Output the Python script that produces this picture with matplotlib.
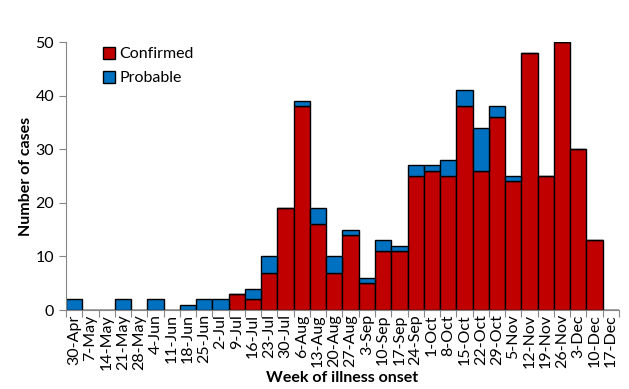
import numpy as np
import matplotlib.pyplot as plt

plt.rcParams['font.family'] = ['Lato', 'DejaVu Sans']

weeks = ['30-Apr', '7-May', '14-May', '21-May', '28-May', '4-Jun', '11-Jun', '18-Jun',
         '25-Jun', '2-Jul', '9-Jul', '16-Jul', '23-Jul', '30-Jul', '6-Aug', '13-Aug',
         '20-Aug', '27-Aug', '3-Sep', '10-Sep', '17-Sep', '24-Sep', '1-Oct', '8-Oct',
         '15-Oct', '22-Oct', '29-Oct', '5-Nov', '12-Nov', '19-Nov', '26-Nov', '3-Dec',
         '10-Dec', '17-Dec']
confirmed = [0, 0, 0, 0, 0, 0, 0, 0, 0, 0, 3, 2, 7, 19, 38, 16, 7, 14, 5, 11, 11, 25,
             26, 25, 38, 26, 36, 24, 48, 25, 50, 30, 13, 0]
probable = [2, 0, 0, 2, 0, 2, 0, 1, 2, 2, 0, 2, 3, 0, 1, 3, 3, 1, 1, 2, 1, 2,
            1, 3, 3, 8, 2, 1, 0, 0, 0, 0, 0, 0]

red = '#C00000'
blue = '#0070C0'
grey = '#868686'

fig = plt.figure(figsize=(6.29, 3.89), dpi=100)
ax = fig.add_axes([0.105, 0.203, 0.879, 0.689])

x = np.arange(len(weeks))
ax.bar(x, confirmed, width=1, color=red, edgecolor='black', linewidth=1,
       label='Confirmed', align='edge')
ax.bar(x, probable, width=1, bottom=confirmed, color=blue, edgecolor='black',
       linewidth=1, label='Probable', align='edge')

ax.set_xlim(0, len(weeks))
ax.set_ylim(0, 50)
ax.set_yticks(range(0, 51, 10))

ax.set_xticks(np.arange(len(weeks) + 1))
ax.set_xticklabels([])
ax.set_xticks(x + 0.5, minor=True)
ax.set_xticklabels(weeks, minor=True, rotation=90, fontsize=11.5)
ax.tick_params(axis='x', which='minor', length=0, pad=3)
ax.tick_params(axis='x', which='major', length=5, color=grey)
ax.tick_params(axis='y', length=5, color=grey, labelsize=11.5)

for side in ['top', 'right']:
    ax.spines[side].set_visible(False)
for side in ['left', 'bottom']:
    ax.spines[side].set_color(grey)

ax.set_ylabel('Number of cases', fontweight='bold', fontsize=11.5, labelpad=2)
ax.set_xlabel('Week of illness onset', fontweight='bold', fontsize=11.5, labelpad=1)

ax.legend(loc='upper left', bbox_to_anchor=(0.04, 1.035), frameon=False,
          handlelength=0.75, handleheight=0.75, handletextpad=0.3,
          labelspacing=0.6, fontsize=11.5)

fig.savefig('out.png', dpi=100)
